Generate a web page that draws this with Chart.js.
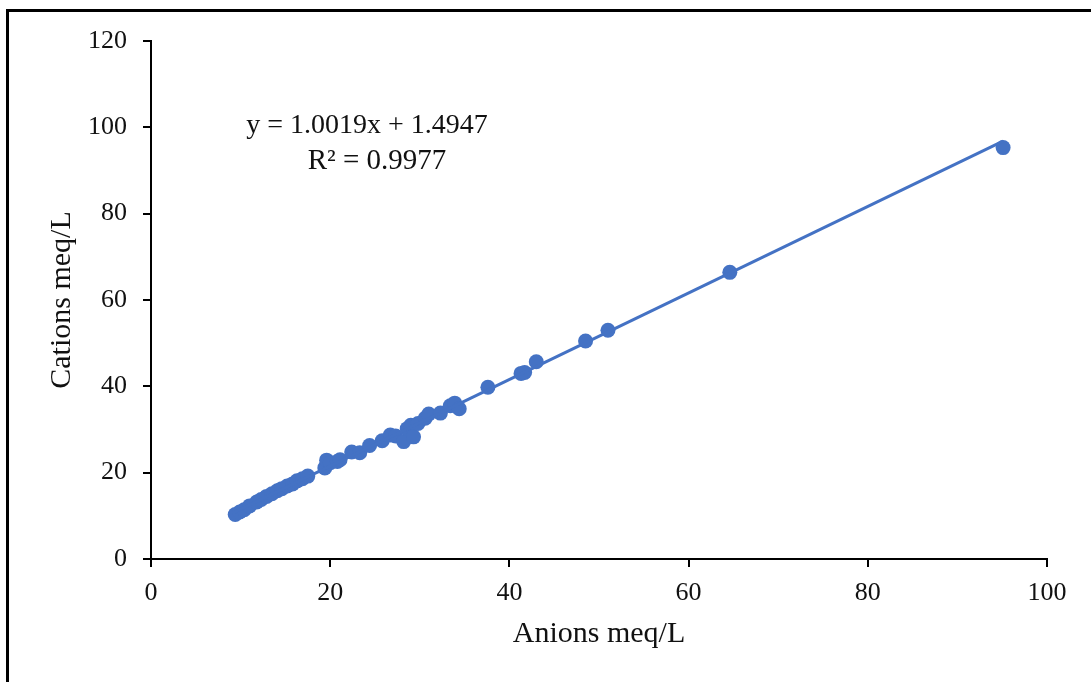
<!DOCTYPE html>
<html>
<head>
<meta charset="utf-8">
<script src="https://cdn.jsdelivr.net/npm/chart.js@4/dist/chart.umd.min.js"></script>
<style>
	html, body { margin: 0; padding: 0; background: #fff; }
	#wrap { position: relative; width: 1091px; height: 682px; }
	#frame { position: absolute; left: 6px; top: 9px; right: 0; bottom: 0; border-left: 3px solid #000; border-top: 3px solid #000; pointer-events: none; }
</style>
</head>
<body>
<div id="wrap">
	<canvas id="myChart" width="1091" height="682"></canvas>
	<div id="frame"></div>
</div>
<script>
// anions (x) and cations (y), meq/L
var anions = [9.4, 9.9, 10.4, 11.0, 11.8, 12.3, 12.9, 13.5, 14.1, 14.6, 15.2, 15.8, 16.3, 16.9, 17.5,
	19.4, 19.6, 20.0, 20.8, 21.1, 22.4, 23.3, 24.4, 25.8, 26.7, 27.3, 28.2, 28.6, 29.0, 29.3,
	29.8, 30.6, 31.0, 32.3, 33.4, 33.9, 34.4, 37.6, 41.3, 41.7, 43.0, 48.5, 51.0, 64.6, 95.1];
var cations = [10.3, 10.9, 11.4, 12.3, 13.2, 13.8, 14.5, 15.1, 15.8, 16.3, 16.9, 17.4, 18.1, 18.6, 19.2,
	21.1, 22.9, 22.3, 22.6, 23.0, 24.8, 24.6, 26.3, 27.4, 28.7, 28.5, 27.2, 30.2, 31.0, 28.3,
	31.4, 32.6, 33.6, 33.8, 35.5, 36.1, 34.8, 39.8, 43.0, 43.2, 45.7, 50.5, 53.0, 66.4, 95.3];

// trendline end points (from the fitted equation shown on the chart)
var trendX = [9.4, 95.1];
var trendY = [10.9, 96.8];

var xTicks = [0, 20, 40, 60, 80, 100];
var yTicks = [0, 20, 40, 60, 80, 100, 120];

var eqLabel = 'y = 1.0019x + 1.4947';
var r2Label = 'R\u00b2 = 0.9977';

var azul = '#4472C4';
var fonte = '"Liberation Serif", "Times New Roman", serif';

function montarPontos(xs, ys){
	return xs.map(function(v, i){ return {x: v, y: ys[i]}; });
}

var rotuloEquacao = {
	id: 'rotuloEquacao',
	afterDraw: function(chart){
		var ctx = chart.ctx;
		ctx.save();
		ctx.fillStyle = '#111';
		ctx.font = '28px ' + fonte;
		ctx.textAlign = 'center';
		ctx.textBaseline = 'middle';
		ctx.fillText(eqLabel, 367, 126);
		ctx.font = '29px ' + fonte;
		ctx.fillText(r2Label, 377, 161);
		ctx.restore();
	}
};

var ctx = document.getElementById('myChart').getContext('2d');
var myChart = new Chart(ctx, {
	type: 'scatter',
	data: {
		datasets: [{
			type: 'line',
			label: 'trend',
			data: montarPontos(trendX, trendY),
			borderColor: azul,
			borderWidth: 3,
			pointRadius: 0,
			fill: false
		}, {
			label: 'amostras',
			data: montarPontos(anions, cations),
			backgroundColor: azul,
			borderColor: azul,
			pointRadius: 7.5,
			pointBorderWidth: 0
		}]
	},
	plugins: [rotuloEquacao],
	options: {
		responsive: false,
		animation: false,
		layout: { padding: { left: 0, top: 41, right: 44, bottom: 0 } },
		plugins: {
			legend: { display: false },
			tooltip: { enabled: false }
		},
		scales: {
			x: {
				type: 'linear',
				min: 0,
				max: 100,
				afterBuildTicks: function(scale){ scale.ticks = xTicks.map(function(v){ return {value: v}; }); },
				afterFit: function(scale){ scale.height = 123; },
				grid: { drawOnChartArea: false, drawTicks: true, tickLength: 8, color: '#000', lineWidth: 2 },
				border: { color: '#000', width: 2 },
				ticks: { color: '#111', font: { family: fonte, size: 26 }, padding: 11 },
				title: { display: true, text: 'Anions meq/L', color: '#111', font: { family: fonte, size: 30 }, padding: { top: 0, bottom: 30 } }
			},
			y: {
				type: 'linear',
				min: 0,
				max: 120,
				afterBuildTicks: function(scale){ scale.ticks = yTicks.map(function(v){ return {value: v}; }); },
				afterFit: function(scale){ scale.width = 151; },
				grid: { drawOnChartArea: false, drawTicks: true, tickLength: 8, color: '#000', lineWidth: 2 },
				border: { color: '#000', width: 2 },
				ticks: { color: '#111', font: { family: fonte, size: 26 }, padding: 16 },
				title: { display: true, text: 'Cations meq/L', color: '#111', font: { family: fonte, size: 30 }, padding: { top: 44, bottom: 0 } }
			}
		}
	}
});
</script>
</body>
</html>
